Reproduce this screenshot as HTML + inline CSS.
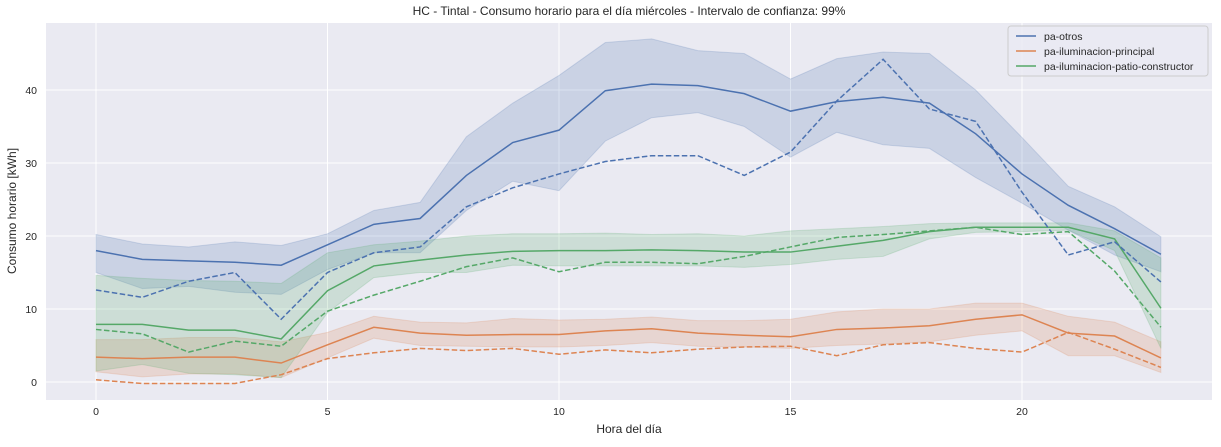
<!DOCTYPE html>
<html><head><meta charset="utf-8">
<style>
body{margin:0;background:#fff;font-family:"Liberation Sans",sans-serif;}
svg text{font-family:"Liberation Sans",sans-serif;fill:#262626;}
</style></head>
<body>
<svg id="chart" width="1221" height="442" xmlns="http://www.w3.org/2000/svg">
<rect x="46" y="23" width="1166" height="377" fill="#eaeaf2"/>
<g id="grid"></g><g id="bands"></g><g id="lines"></g><g id="ticks"></g>
<text x="629" y="15" text-anchor="middle" font-size="12">HC - Tintal - Consumo horario para el día miércoles - Intervalo de confianza: 99%</text>
<text x="629" y="433" text-anchor="middle" font-size="12">Hora del día</text>
<text transform="translate(16,211) rotate(-90)" text-anchor="middle" font-size="12">Consumo horario [kWh]</text>
<g>
<rect x="1008" y="26" width="200" height="50" rx="3" fill="#eaeaf2" stroke="#cccccc" fill-opacity="0.8"/>
<line x1="1016" y1="36" x2="1036" y2="36" stroke="#4c72b0" stroke-width="1.5"/>
<text x="1044" y="40" font-size="10.5">pa-otros</text>
<line x1="1016" y1="51" x2="1036" y2="51" stroke="#dd8452" stroke-width="1.5"/>
<text x="1044" y="55" font-size="10.5">pa-iluminacion-principal</text>
<line x1="1016" y1="66" x2="1036" y2="66" stroke="#55a868" stroke-width="1.5"/>
<text x="1044" y="70" font-size="10.5">pa-iluminacion-patio-constructor</text>
</g>
</svg>
<script>
const hours=[0,1,2,3,4,5,6,7,8,9,10,11,12,13,14,15,16,17,18,19,20,21,22,23];
const xTicks=[0,5,10,15,20];
const yTicks=[0,10,20,30,40];
const otrosMean=[18,16.8,16.6,16.4,16,18.8,21.6,22.4,28.3,32.8,34.5,39.9,40.8,40.6,39.5,37.1,38.4,39,38.2,34,28.5,24.2,21,17.5];
const otrosLo=[15,12.8,13.1,12.3,12,15.4,17.7,17.7,23.5,27.5,26.2,33,36.2,36.9,35,30.8,34.2,32.5,32,28,24.5,20.8,17.4,15.1];
const otrosHi=[20.2,18.9,18.5,19.2,18.7,20.3,23.5,24.6,33.6,38.2,42,46.5,47,45.4,45,41.5,44.3,45.2,45,40,33.5,26.8,24,19.9];
const otrosRef=[12.6,11.6,13.8,15,8.6,15,17.7,18.5,24,26.6,28.5,30.2,31,31,28.3,31.5,38.5,44.2,37.4,35.7,26,17.4,19.2,13.7];
const patioMean=[7.9,7.9,7.1,7.1,5.9,12.5,15.9,16.7,17.4,17.9,18,18,18.1,18,17.8,17.8,18.6,19.4,20.6,21.2,21.2,21.2,19.6,10.1];
const patioLo=[1.5,2.4,1.2,1,0.6,9.5,14.3,15,15,16,15.9,15.9,15.9,15.9,15.7,16.1,16.8,17.2,19.6,20.5,20.6,20.8,18,4.6];
const patioHi=[14.6,14.2,13.9,13.8,13.5,17.7,18.8,19.3,20,20.3,20.3,20.4,20.2,20.3,20,20.7,21,21.3,21.7,21.8,21.8,21.8,20.7,17];
const patioRef=[7.2,6.6,4.1,5.6,4.9,9.7,11.9,13.8,15.8,17,15.1,16.4,16.4,16.2,17.2,18.5,19.8,20.2,20.7,21.2,20.2,20.6,15.2,7.5];
const princMean=[3.4,3.2,3.4,3.4,2.6,5.1,7.5,6.7,6.4,6.5,6.5,7,7.3,6.7,6.4,6.2,7.2,7.4,7.7,8.6,9.2,6.7,6.3,3.3];
const princLo=[1.4,0.7,1.1,1.1,0.6,3.3,6,5,4.9,4.8,4.8,5,5.4,4.9,4.8,4.6,5,5.2,5.5,6.4,7,3.6,3.6,1.3];
const princHi=[5.8,5.8,6.1,6.1,5.5,6.8,9,8.2,8.1,8.7,8.5,8.6,8.9,8.4,8.4,8.6,9.6,10,10,10.8,10.8,9,8.2,5.5];
const princRef=[0.3,-0.2,-0.2,-0.2,1,3.2,4,4.6,4.3,4.6,3.8,4.4,4,4.5,4.8,4.9,3.6,5.1,5.4,4.6,4.1,6.8,4.5,2];

const X=h=>96+h*46.3;
const Y=v=>382-v*7.3;
const NS="http://www.w3.org/2000/svg";
function mk(tag,parent,attrs){const e=document.createElementNS(NS,tag);for(const k in attrs)e.setAttribute(k,attrs[k]);document.getElementById(parent).appendChild(e);return e;}
xTicks.forEach(t=>{
  const l=mk('line','grid',{x1:X(t),x2:X(t),y1:23,y2:400,stroke:'#fff','stroke-width':1});
  
  
  const tx=mk('text','ticks',{x:X(t),y:415,'text-anchor':'middle','font-size':10.5});
  tx.textContent=t;
  
  
});
yTicks.forEach(t=>{
  const l=mk('line','grid',{x1:46,x2:1212,y1:Y(t),y2:Y(t),stroke:'#fff','stroke-width':1});
  
  
  const tx=mk('text','ticks',{x:37,y:Y(t)+4,'text-anchor':'end','font-size':10.5});
  tx.textContent=t;
  
  
});
function band(lo,hi,color,name){
  let d='M'+hours.map((h,i)=>X(h)+','+Y(hi[i])).join('L');
  d+='L'+hours.slice().reverse().map(h=>X(h)+','+Y(lo[h])).join('L')+'Z';
  const p=mk('path','bands',{d:d,fill:color,'fill-opacity':0.2,stroke:color,'stroke-opacity':0.2});
  
  
}
function line(vals,color,dash,name){
  const d='M'+hours.map((h,i)=>X(h)+','+Y(vals[i])).join('L');
  const p=mk('path','lines',{d:d,fill:'none',stroke:color,'stroke-width':1.5});
  if(dash)p.setAttribute('stroke-dasharray','5.5,2.5');
  
  
}
const B='#4c72b0',O='#dd8452',G='#55a868';
band(otrosLo,otrosHi,B,'otros-confidence-band');
band(princLo,princHi,O,'principal-confidence-band');
band(patioLo,patioHi,G,'patio-confidence-band');
line(otrosMean,B,false,'otros-mean-line');
line(princMean,O,false,'principal-mean-line');
line(patioMean,G,false,'patio-mean-line');
line(otrosRef,B,true,'otros-dashed-line');
line(princRef,O,true,'principal-dashed-line');
line(patioRef,G,true,'patio-dashed-line');
</script>
</body></html>
